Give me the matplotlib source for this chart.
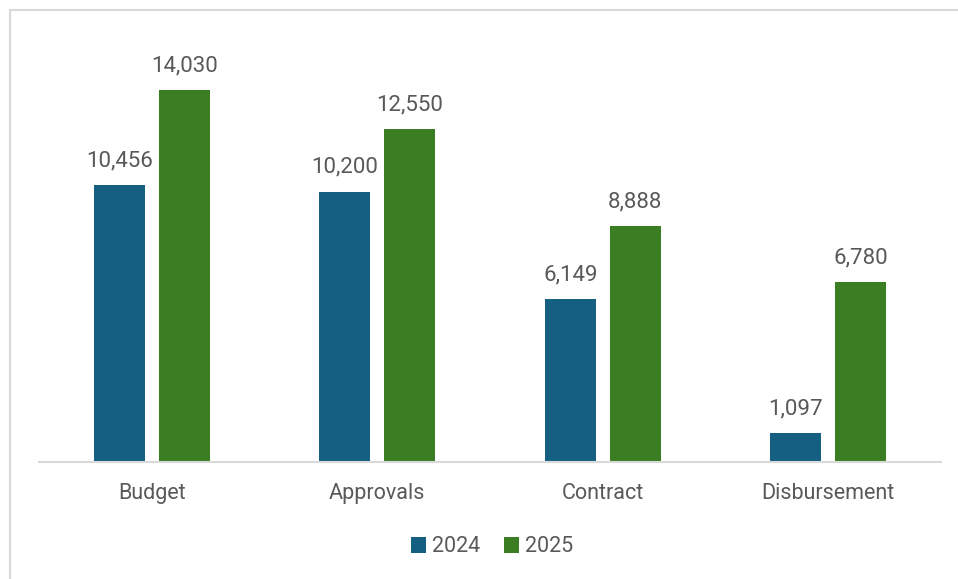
import matplotlib.pyplot as plt
import numpy as np
from matplotlib.patches import Rectangle

categories = ["Budget", "Approvals", "Contract", "Disbursement"]
years = ["2024", "2025"]
values_2024 = [10456, 10200, 6149, 1097]
values_2025 = [14030, 12550, 8888, 6780]

colors = {"2024": "#156082", "2025": "#3A7D22"}
text_color = "#595959"

plt.rcParams["font.family"] = ["Roboto", "DejaVu Sans"]

fig = plt.figure(figsize=(9.58, 5.79), dpi=100)
ax = fig.add_axes([39 / 958, 1 - 462 / 579, 902 / 958, 424 / 579])

# chart-area border (only top/left visible in the reference)
fig.patches.append(Rectangle((9.5 / 958, -0.5), 2.0, 1.5 - 9.5 / 579,
                             transform=fig.transFigure, fill=False,
                             edgecolor="#D9D9D9", linewidth=1.5))

x = np.arange(len(categories))
width = 0.226
offset = 0.144

for vals, yr, sign in [(values_2024, "2024", -1), (values_2025, "2025", 1)]:
    bars = ax.bar(x + sign * offset, vals, width, color=colors[yr], label=yr)
    for b, v in zip(bars, vals):
        ax.annotate(f"{v:,}", (b.get_x() + b.get_width() / 2, v),
                    xytext=(0, 10), textcoords="offset points",
                    ha="center", va="bottom", fontsize=16, color=text_color)

ax.set_xlim(-0.5, 3.5)
ax.set_ylim(0, 16000)
ax.set_yticks([])
ax.set_xticks(x)
ax.set_xticklabels(categories, fontsize=15.5, color=text_color)
ax.tick_params(axis="x", length=0, pad=15)
for s in ["top", "right", "left"]:
    ax.spines[s].set_visible(False)
ax.spines["bottom"].set_color("#D9D9D9")
ax.spines["bottom"].set_linewidth(1.5)

fig.legend(loc="center", bbox_to_anchor=(492 / 958, 1 - 547 / 579), ncol=2,
           frameon=False, fontsize=15.5, labelcolor=text_color,
           handlelength=0.7, handleheight=0.7, handletextpad=0.3,
           columnspacing=1.1)

fig.savefig("out.png", dpi=100)
